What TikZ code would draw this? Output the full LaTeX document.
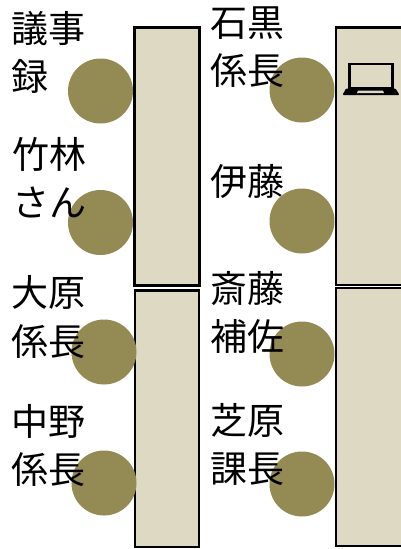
\documentclass[tikz,border=0pt]{standalone}
\usepackage{fontspec}
\setmainfont{Noto Sans CJK JP}
\usepackage{tikz}
\definecolor{tan1}{HTML}{DDD9C3}
\definecolor{olive1}{HTML}{948A54}
\tikzset{desk/.style={draw,line width=2.5pt,fill=tan1,inner sep=0pt,minimum width=64pt}}
\tikzset{seat/.style={circle,fill=olive1,inner sep=0pt,minimum size=65pt}}
\tikzset{who/.style={anchor=west,inner sep=0pt,align=left,font=\fontsize{37}{48.5}\selectfont}}
\begin{document}
\begin{tikzpicture}[x=1pt,y=-1pt]
            \useasboundingbox (0,0) rectangle (401,549);
            \clip (0,0) rectangle (401,549);
            \node[desk,minimum width=65pt,minimum height=258pt] (deskA) at (167,156.4) {};
            \node[desk,minimum height=256.5pt] (deskB) at (167,418.5) {};
            \node[desk,minimum width=80pt,minimum height=257.5pt] (deskC) at (376,156.2) {};
            \node[desk,minimum width=80pt,minimum height=258pt] (deskD) at (376,417) {};
            \node[seat] (seatA) at (100.5,91) {};
            \node[seat] (seatB) at (100.5,222.5) {};
            \node[seat] (seatC) at (104,352) {};
            \node[seat] (seatD) at (104,483) {};
            \node[seat] (seatE) at (302,90) {};
            \node[seat] (seatF) at (302,221) {};
            \node[seat] (seatG) at (302,354) {};
            \node[seat] (seatH) at (302,484) {};
            \node[who] (minutes) at (11.5,52.5) {議事\\録};
            \node[who] (takebayashi) at (12,177.5) {竹林\\さん};
            \node[who] (ohara) at (11.5,317) {大原\\係長};
            \node[who] (nakano) at (11.5,445.5) {中野\\係長};
            \node[who] (ishiguro) at (210.5,47) {石黒\\係長};
            \node[who] (ito) at (210.5,181) {伊藤};
            \node[who] (saito) at (210.5,312.5) {斎藤\\補佐};
            \node[who] (shibahara) at (210.5,444.5) {芝原\\課長};
            \draw[line width=2.3pt] (349.5,64.2) rectangle (392.5,88);
            \fill[rounded corners=1pt] (346,88.5) -- (395.5,88.5) -- (399.5,95) -- (342.5,95) -- cycle;
            \fill[tan1] (358,90.6) -- (383,90.6) -- (384,93) -- (357,93) -- cycle;
            \end{tikzpicture}
\end{document}
